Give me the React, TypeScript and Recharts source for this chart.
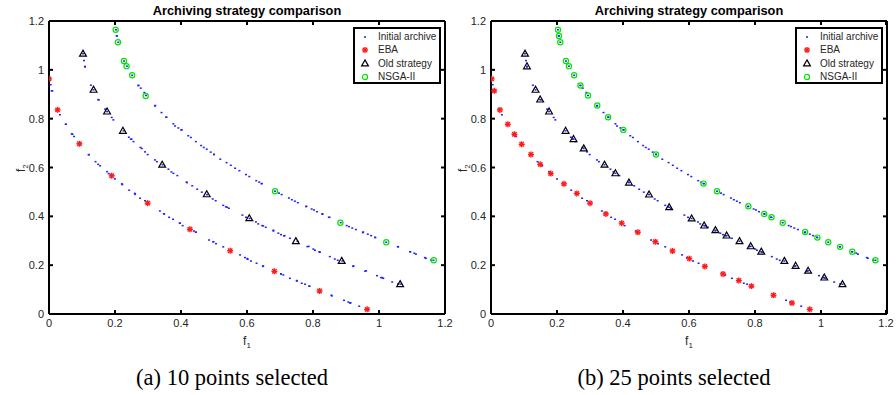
import React from "react";
import { ScatterChart, Scatter, XAxis, YAxis, ReferenceLine } from "recharts";

// Initial archive (same archive in both panels)
const archiveLow: [number, number][] = [
  [0.005, 0.939], [0.008, 0.914], [0.033, 0.816], [0.051, 0.777], [0.069, 0.738], [0.076, 0.727],
  [0.12, 0.652], [0.141, 0.624], [0.155, 0.607], [0.176, 0.583], [0.2, 0.553], [0.222, 0.53],
  [0.243, 0.507], [0.261, 0.49], [0.276, 0.474], [0.291, 0.464], [0.336, 0.422], [0.349, 0.41],
  [0.364, 0.396], [0.376, 0.388], [0.397, 0.372], [0.405, 0.362], [0.439, 0.34], [0.445, 0.335],
  [0.485, 0.303], [0.498, 0.296], [0.506, 0.288], [0.528, 0.275], [0.579, 0.242], [0.594, 0.231],
  [0.602, 0.224], [0.612, 0.217], [0.629, 0.208], [0.649, 0.197], [0.703, 0.164], [0.71, 0.16],
  [0.73, 0.146], [0.751, 0.135], [0.766, 0.126], [0.776, 0.122], [0.789, 0.114], [0.857, 0.074],
  [0.894, 0.056], [0.907, 0.049], [0.914, 0.046], [0.94, 0.032],
];
const archiveMid: [number, number][] = [
  [0.106, 1.038], [0.109, 1.012], [0.127, 0.937], [0.151, 0.877], [0.17, 0.839], [0.19, 0.805],
  [0.195, 0.795], [0.242, 0.724], [0.248, 0.716], [0.256, 0.706], [0.277, 0.682], [0.291, 0.664],
  [0.299, 0.653], [0.321, 0.631], [0.327, 0.624], [0.362, 0.593], [0.371, 0.582], [0.389, 0.567],
  [0.417, 0.54], [0.434, 0.525], [0.449, 0.511], [0.463, 0.499], [0.496, 0.471], [0.505, 0.464],
  [0.528, 0.445], [0.536, 0.439], [0.545, 0.433], [0.586, 0.405], [0.597, 0.396], [0.627, 0.377],
  [0.634, 0.369], [0.649, 0.361], [0.657, 0.355], [0.68, 0.34], [0.695, 0.331], [0.703, 0.325],
  [0.712, 0.32], [0.73, 0.31], [0.783, 0.276], [0.801, 0.266], [0.806, 0.261], [0.821, 0.253],
  [0.851, 0.235], [0.866, 0.225], [0.875, 0.22], [0.921, 0.195], [0.958, 0.175], [0.994, 0.157],
  [1.006, 0.149], [1.013, 0.146], [1.04, 0.131], [1.058, 0.123],
];
const archiveHigh: [number, number][] = [
  [0.205, 1.139], [0.271, 0.936], [0.278, 0.925], [0.289, 0.907], [0.321, 0.852], [0.341, 0.825],
  [0.356, 0.806], [0.377, 0.779], [0.382, 0.77], [0.392, 0.762], [0.402, 0.754], [0.422, 0.73],
  [0.43, 0.723], [0.445, 0.706], [0.461, 0.69], [0.469, 0.682], [0.478, 0.675], [0.49, 0.663],
  [0.5, 0.654], [0.519, 0.634], [0.538, 0.62], [0.551, 0.609], [0.564, 0.597], [0.577, 0.587],
  [0.597, 0.571], [0.607, 0.563], [0.628, 0.546], [0.637, 0.54], [0.645, 0.534], [0.697, 0.495],
  [0.705, 0.489], [0.727, 0.475], [0.736, 0.468], [0.745, 0.462], [0.754, 0.456], [0.779, 0.44],
  [0.796, 0.43], [0.803, 0.426], [0.812, 0.419], [0.829, 0.409], [0.848, 0.396], [0.902, 0.362],
  [0.909, 0.358], [0.919, 0.352], [0.93, 0.346], [0.951, 0.333], [0.966, 0.327], [0.976, 0.321],
  [0.988, 0.314], [1.057, 0.276], [1.094, 0.255], [1.107, 0.249], [1.112, 0.245], [1.139, 0.231],
  [1.142, 0.228], [1.158, 0.221],
];

// (a) 10 points selected
const eba10: [number, number][] = [
  [0, 0.963], [0.026, 0.836], [0.092, 0.697], [0.19, 0.566], [0.299, 0.454],
  [0.427, 0.347], [0.549, 0.259], [0.683, 0.175], [0.82, 0.094], [0.964, 0.019],
];
const old10: [number, number][] = [
  [0.103, 1.066], [0.135, 0.918], [0.176, 0.829], [0.224, 0.75], [0.343, 0.611],
  [0.478, 0.49], [0.607, 0.392], [0.748, 0.298], [0.887, 0.217], [1.064, 0.122],
];
const nsga10: [number, number][] = [
  [0.202, 1.164], [0.209, 1.113], [0.227, 1.036], [0.235, 1.015], [0.252, 0.978],
  [0.293, 0.893], [0.685, 0.503], [0.883, 0.374], [1.022, 0.294], [1.166, 0.22],
];

// (b) 25 points selected
const eba25: [number, number][] = [
  [0.002, 0.963], [0.01, 0.914], [0.027, 0.836], [0.051, 0.777], [0.071, 0.736], [0.093, 0.695],
  [0.121, 0.653], [0.149, 0.613], [0.181, 0.575], [0.221, 0.533], [0.26, 0.494], [0.3, 0.454],
  [0.348, 0.41], [0.396, 0.372], [0.445, 0.335], [0.498, 0.296], [0.55, 0.258], [0.601, 0.227],
  [0.648, 0.195], [0.703, 0.164], [0.751, 0.137], [0.789, 0.114], [0.856, 0.077], [0.912, 0.045],
  [0.966, 0.019],
];
const old25: [number, number][] = [
  [0.103, 1.066], [0.109, 1.014], [0.135, 0.918], [0.149, 0.878], [0.176, 0.829], [0.226, 0.75],
  [0.25, 0.716], [0.281, 0.678], [0.344, 0.611], [0.377, 0.576], [0.418, 0.538], [0.479, 0.489],
  [0.54, 0.437], [0.608, 0.391], [0.646, 0.362], [0.68, 0.343], [0.714, 0.321], [0.753, 0.298],
  [0.787, 0.277], [0.819, 0.255], [0.889, 0.217], [0.923, 0.197], [0.961, 0.177], [1.01, 0.149],
  [1.065, 0.122],
];
const nsga25: [number, number][] = [
  [0.203, 1.164], [0.206, 1.139], [0.21, 1.113], [0.227, 1.036], [0.236, 1.015], [0.252, 0.978],
  [0.271, 0.936], [0.294, 0.895], [0.322, 0.854], [0.355, 0.806], [0.401, 0.754], [0.5, 0.653],
  [0.644, 0.534], [0.685, 0.503], [0.78, 0.441], [0.828, 0.41], [0.85, 0.396], [0.884, 0.374],
  [0.952, 0.336], [0.989, 0.313], [1.022, 0.294], [1.058, 0.275], [1.095, 0.255], [1.165, 0.22],
];

const ticks = [0, 0.2, 0.4, 0.6, 0.8, 1, 1.2];
const tickLabels = ["0", "0.2", "0.4", "0.6", "0.8", "1", "1.2"];

const toPts = (arr: [number, number][]) => arr.map(([f1, f2]) => ({ f1, f2 }));
const archive = toPts([...archiveLow, ...archiveMid, ...archiveHigh, ...eba25, ...old25, ...nsga25]);

const AXIS = "#262626";
const LINE = "#000";
const FONT = "'Liberation Sans', Arial, sans-serif";
const TOP = 21;
const BOTTOM = 314;
const TICK = 4;

const DotShape = (p: any) => (
  <rect x={p.cx - 1} y={p.cy - 0.75} width={2} height={1.5} fill="#2020ff" />
);
const StarShape = (p: any) => {
  const { cx, cy } = p;
  return (
    <g stroke="#ff1a1a" strokeWidth={1.4}>
      <line x1={cx - 3} y1={cy} x2={cx + 3} y2={cy} />
      <line x1={cx} y1={cy - 3} x2={cx} y2={cy + 3} />
      <line x1={cx - 2.2} y1={cy - 2.2} x2={cx + 2.2} y2={cy + 2.2} />
      <line x1={cx - 2.2} y1={cy + 2.2} x2={cx + 2.2} y2={cy - 2.2} />
    </g>
  );
};
const TriShape = (p: any) => {
  const { cx, cy } = p;
  return (
    <path
      d={`M${cx},${cy - 3.6} L${cx + 3.4},${cy + 2.4} L${cx - 3.4},${cy + 2.4}Z`}
      fill="none"
      stroke="#000"
      strokeWidth={1.2}
    />
  );
};
const CircShape = (p: any) => (
  <circle cx={p.cx} cy={p.cy} r={2.6} fill="none" stroke="#00e600" strokeWidth={1.2} />
);

// x ticks: inward marks on bottom and top edges, label below
const makeXTick = () => (p: any) => {
  const x = p.x;
  return (
    <g>
      <line x1={x} y1={BOTTOM} x2={x} y2={BOTTOM - TICK} stroke={LINE} strokeWidth={2} />
      <line x1={x} y1={TOP} x2={x} y2={TOP + TICK} stroke={LINE} strokeWidth={2} />
      <text x={x} y={BOTTOM + 13} textAnchor="middle" fill={AXIS} fontSize={11}>
        {tickLabels[p.index]}
      </text>
    </g>
  );
};
// y ticks: inward marks on left and right edges, label to the left
const makeYTick = (plotLeft: number, plotRight: number) => (p: any) => {
  const y = p.y;
  return (
    <g>
      <line x1={plotLeft} y1={y} x2={plotLeft + TICK} y2={y} stroke={LINE} strokeWidth={2} />
      <line x1={plotRight} y1={y} x2={plotRight - TICK} y2={y} stroke={LINE} strokeWidth={2} />
      <text x={plotLeft - 5} y={y + 4} textAnchor="end" fill={AXIS} fontSize={11}>
        {tickLabels[p.index]}
      </text>
    </g>
  );
};

function LegendBox({ left }: { left: number }) {
  const rows = [
    { name: "Initial archive", icon: <rect x={5} y={5.25} width={2} height={1.5} fill="#2020ff" /> },
    { name: "EBA", icon: <StarShape cx={6} cy={6} /> },
    { name: "Old strategy", icon: <TriShape cx={6} cy={6.5} /> },
    { name: "NSGA-II", icon: <CircShape cx={6} cy={6} /> },
  ];
  return (
    <div
      style={{
        position: "absolute",
        left,
        top: 27,
        width: 88,
        height: 57,
        boxSizing: "border-box",
        border: "2px solid #000",
        background: "#fff",
        fontFamily: FONT,
        fontSize: 10,
        color: AXIS,
      }}
    >
      {rows.map((r, i) => (
        <div key={r.name} style={{ position: "absolute", left: 4, top: 1 + i * 13.4, height: 13, display: "flex", alignItems: "center" }}>
          <svg width={12} height={12} style={{ marginRight: 7 }}>{r.icon}</svg>
          <span style={{ whiteSpace: "nowrap" }}>{r.name}</span>
        </div>
      ))}
    </div>
  );
}

function Panel(props: {
  left: number;
  width: number;
  margin: { top: number; right: number; left: number; bottom: number };
  eba: [number, number][];
  old: [number, number][];
  nsga: [number, number][];
}) {
  const { left, width, margin } = props;
  const localLeft = margin.left + 30;
  const localRight = width - margin.right;
  const plotLeft = left + localLeft;
  const plotRight = left + localRight;
  const mid = (plotLeft + plotRight) / 2;
  return (
    <>
      <div style={{ position: "absolute", left, top: 0 }}>
        <ScatterChart width={width} height={360} margin={margin} style={{ fontFamily: FONT, overflow: "visible" }}>
          <XAxis
            dataKey="f1"
            type="number"
            domain={[0, 1.2]}
            ticks={ticks}
            height={46}
            axisLine={false}
            tickLine={false}
            tick={makeXTick()}
            allowDataOverflow
          />
          <YAxis
            dataKey="f2"
            type="number"
            domain={[0, 1.2]}
            ticks={ticks}
            width={30}
            axisLine={false}
            tickLine={false}
            tick={makeYTick(localLeft, localRight)}
            allowDataOverflow
          />
          <ReferenceLine x={0} stroke={LINE} strokeWidth={2} ifOverflow="visible" />
          <ReferenceLine x={1.2} stroke={LINE} strokeWidth={2} ifOverflow="visible" />
          <ReferenceLine y={0} stroke={LINE} strokeWidth={2} ifOverflow="visible" />
          <ReferenceLine y={1.2} stroke={LINE} strokeWidth={2} ifOverflow="visible" />
          <Scatter name="Initial archive" data={archive} shape={DotShape} isAnimationActive={false} />
          <Scatter name="EBA" data={toPts(props.eba)} shape={StarShape} isAnimationActive={false} />
          <Scatter name="Old strategy" data={toPts(props.old)} shape={TriShape} isAnimationActive={false} />
          <Scatter name="NSGA-II" data={toPts(props.nsga)} shape={CircShape} isAnimationActive={false} />
        </ScatterChart>
      </div>
      <div style={{ position: "absolute", left: mid - 120, width: 240, top: 3, textAlign: "center", fontFamily: FONT, fontWeight: "bold", fontSize: 12.8, color: "#000" }}>
        Archiving strategy comparison
      </div>
      <div style={{ position: "absolute", left: mid - 20, width: 40, top: 334, textAlign: "center", fontFamily: FONT, fontSize: 12, color: AXIS }}>
        f<sub style={{ fontSize: 8 }}>1</sub>
      </div>
      <div style={{ position: "absolute", left: plotLeft - 47, top: 160, width: 40, textAlign: "center", transform: "rotate(-90deg)", fontFamily: FONT, fontSize: 12, color: AXIS }}>
        f<sub style={{ fontSize: 8 }}>2</sub>
      </div>
      <LegendBox left={plotRight - 92} />
    </>
  );
}

export default function App() {
  return (
    <div style={{ position: "absolute", left: 0, top: 0, width: 896, height: 395, background: "#fff", overflow: "hidden" }}>
      <Panel left={0} width={460} margin={{ top: TOP, right: 15, left: 19, bottom: 0 }} eba={eba10} old={old10} nsga={nsga10} />
      <Panel left={448} width={448} margin={{ top: TOP, right: 9, left: 13, bottom: 0 }} eba={eba25} old={old25} nsga={nsga25} />
      <div style={{ position: "absolute", left: 122, width: 220, top: 365, textAlign: "center", fontFamily: "'Liberation Serif', 'Times New Roman', serif", fontSize: 22.5 }}>
        (a) 10 points selected
      </div>
      <div style={{ position: "absolute", left: 564, width: 220, top: 365, textAlign: "center", fontFamily: "'Liberation Serif', 'Times New Roman', serif", fontSize: 22.5 }}>
        (b) 25 points selected
      </div>
    </div>
  );
}
